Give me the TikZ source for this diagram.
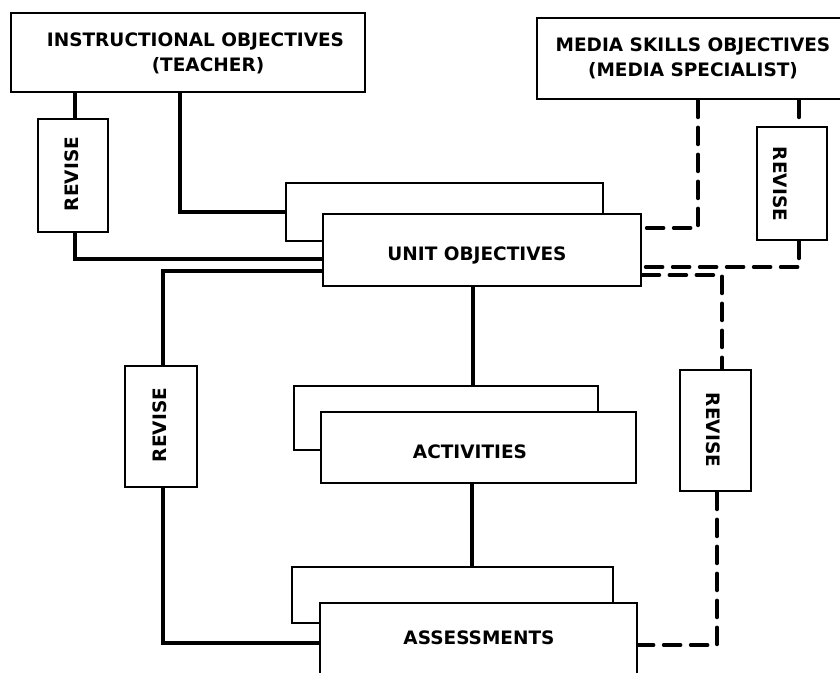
\documentclass[tikz,border=0pt]{standalone}
\usepackage{fontspec}
\setmainfont{DejaVu Sans}
\begin{document}
\begin{tikzpicture}[x=1pt,y=-1pt,
  box/.style={draw, line width=2.4pt, fill=white, rectangle, inner sep=0pt, anchor=north west},
  lbl/.style={font=\bfseries\fontsize{18.5}{25}\selectfont, align=center, inner sep=0pt},
  conn/.style={line width=4pt},
  dconn/.style={line width=3.6pt, dash pattern=on 17pt off 10pt, line cap=round},
]
\useasboundingbox (0,0) rectangle (840,672);
\clip (0,0) rectangle (840,672);

% top boxes
\node[box, minimum width=354pt, minimum height=79pt] (instr) at (10,12) {};
\node[box, minimum width=330pt, minimum height=81pt] (media) at (536,17) {};
\node[lbl] (instrT) at (195.5,53) {INSTRUCTIONAL OBJECTIVES\\\hspace*{25pt}(TEACHER)};
\node[lbl] (mediaT) at (693,58) {MEDIA SKILLS OBJECTIVES\\(MEDIA SPECIALIST)};

% revise boxes
\node[box, minimum width=70pt, minimum height=113pt] (revA) at (37,118) {};
\node[box, minimum width=70pt, minimum height=113pt] (revB) at (756,126) {};
\node[box, minimum width=72pt, minimum height=121pt] (revC) at (124,365) {};
\node[box, minimum width=71pt, minimum height=121pt] (revD) at (679,369) {};
\node[lbl, rotate=90] (revAT) at (72,174) {REVISE};
\node[lbl, rotate=-90] (revBT) at (780,184) {REVISE};
\node[lbl, rotate=90] (revCT) at (160,425) {REVISE};
\node[lbl, rotate=-90] (revDT) at (713,430) {REVISE};

% stacked boxes
\node[box, minimum width=317pt, minimum height=58pt] (unitBack) at (285,182) {};
\node[box, minimum width=318pt, minimum height=72pt] (unitFront) at (322,213) {};
\node[lbl] (unitT) at (477,255) {UNIT OBJECTIVES};

\node[box, minimum width=304pt, minimum height=64pt] (actBack) at (293,385) {};
\node[box, minimum width=315pt, minimum height=71pt] (actFront) at (320,411) {};
\node[lbl] (actT) at (470,452) {ACTIVITIES};

\node[box, minimum width=321pt, minimum height=56pt] (asBack) at (291,566) {};
\node[box, minimum width=317pt, minimum height=100pt] (asFront) at (319,602) {};
\node[lbl] (asT) at (479,638) {ASSESSMENTS};

% corner coordinates
\coordinate (c1) at (75,259);
\coordinate (c2) at (180,212);
\coordinate (c3) at (163,271);
\coordinate (c4) at (163,643);
\coordinate (c5) at (473,0);
\coordinate (c6) at (472,0);
\coordinate (d1) at (698,228);
\coordinate (d2) at (799,267);
\coordinate (d3) at (722,275);
\coordinate (d4) at (717,645);

% solid connectors
\draw[conn] (instr.south -| c1) -- (revA.north -| c1);
\draw[conn] (revA.south -| c1) -- (c1) -- (unitFront.west |- c1);
\draw[conn] (instr.south -| c2) -- (c2) -- (unitBack.west |- c2);
\draw[conn] (unitFront.west |- c3) -- (c3) -- (revC.north -| c3);
\draw[conn] (revC.south -| c4) -- (c4) -- (asFront.west |- c4);
\draw[conn] (unitFront.south -| c5) -- (actBack.north -| c5);
\draw[conn] (actFront.south -| c6) -- (asBack.north -| c6);

% dashed connectors
\draw[dconn] (media.south -| d1) -- (d1) -- (unitFront.east |- d1);
\draw[dconn] (media.south -| d2) -- (revB.north -| d2);
\draw[dconn] (revB.south -| d2) -- (d2) -- (unitFront.east |- d2);
\draw[dconn] (unitFront.east |- d3) -- (d3) -- (revD.north -| d3);
\draw[dconn] (revD.south -| d4) -- (d4) -- (asFront.east |- d4);
\end{tikzpicture}
\end{document}
